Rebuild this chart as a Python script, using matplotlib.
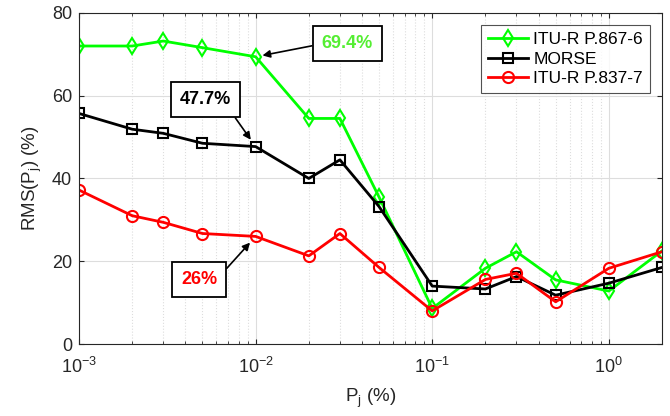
import matplotlib
matplotlib.use('Agg')
import matplotlib.pyplot as plt

plt.rcParams['font.family'] = ['Liberation Sans', 'DejaVu Sans']

# percentages of time
pj = [0.001, 0.002, 0.003, 0.005, 0.01, 0.02, 0.03, 0.05, 0.1, 0.2, 0.3, 0.5, 1, 2]
itu867 = [72.0, 72.0, 73.2, 71.6, 69.4, 54.5, 54.5, 35.5, 8.6, 18.3, 22.3, 15.5, 12.8, 22.5]
morse = [55.7, 51.9, 50.9, 48.5, 47.7, 40.0, 44.5, 33.2, 14.0, 13.3, 16.3, 11.8, 14.7, 18.5]
itu837 = [37.2, 31.0, 29.4, 26.7, 26.0, 21.3, 26.7, 18.5, 8.0, 15.6, 17.1, 10.2, 18.3, 22.3]

fig = plt.figure(figsize=(6.7, 4.16), dpi=100)
ax = fig.add_axes([0.118, 0.173, 0.870, 0.796])

ax.plot(pj, itu867, color='#00ff00', lw=2, marker='d', ms=8, mfc='none', mew=1.5, label='ITU-R P.867-6')
ax.plot(pj, morse, color='black', lw=2, marker='s', ms=7, mfc='none', mew=1.5, label='MORSE')
ax.plot(pj, itu837, color='#ff0000', lw=2, marker='o', ms=8, mfc='none', mew=1.5, label='ITU-R P.837-7')

ax.set_xscale('log')
ax.set_xlim(0.001, 2)
ax.set_ylim(0, 80)
ax.set_yticks([0, 20, 40, 60, 80])
ax.grid(True, which='major', color='#dddddd', lw=0.8)
ax.grid(True, which='minor', axis='x', color='#dddddd', lw=0.8, ls=':')
ax.tick_params(which='both', direction='in', top=True, right=True, labelsize=13, colors='#262626')
ax.tick_params(axis='x', pad=9)
ax.tick_params(axis='y', pad=5)
for s in ax.spines.values():
    s.set_color('#262626')
    s.set_linewidth(0.8)

ax.set_xlabel('P$_\\mathregular{j}$ (%)', fontsize=13.5, color='#262626', labelpad=7)
ax.set_ylabel('RMS(P$_\\mathregular{j}$) (%)', fontsize=13.5, color='#262626', labelpad=6)

leg = ax.legend(loc='upper right', fontsize=12.5, fancybox=False, edgecolor='#262626',
                handlelength=2.3, handletextpad=0.3, borderaxespad=0.7,
                labelspacing=0.25, borderpad=0.4)
leg.get_frame().set_linewidth(0.8)

box = dict(boxstyle='square,pad=0.5', fc='white', ec='black', lw=1.3)
ax.annotate('69.4%', xy=(pj[4], itu867[4]), xytext=(0.033, 72.5), color='#55ee33',
            fontsize=13, fontweight='bold', ha='center', va='center', bbox=box,
            arrowprops=dict(arrowstyle='-|>', color='black', lw=1.2, mutation_scale=11,
                            shrinkA=0, shrinkB=5, relpos=(0, 0.5)))
ax.annotate('47.7%', xy=(pj[4], morse[4]), xytext=(0.0052, 59.0), color='black',
            fontsize=13, fontweight='bold', ha='center', va='center', bbox=box,
            arrowprops=dict(arrowstyle='-|>', color='black', lw=1.2, mutation_scale=11,
                            shrinkA=0, shrinkB=6, relpos=(0.95, 0)))
ax.annotate('26%', xy=(pj[4], itu837[4]), xytext=(0.00478, 15.7), color='#ff0000',
            fontsize=13, fontweight='bold', ha='center', va='center', bbox=box,
            arrowprops=dict(arrowstyle='-|>', color='black', lw=1.2, mutation_scale=11,
                            shrinkA=0, shrinkB=6, relpos=(1, 0.5)))

fig.savefig('out.png', dpi=100)
